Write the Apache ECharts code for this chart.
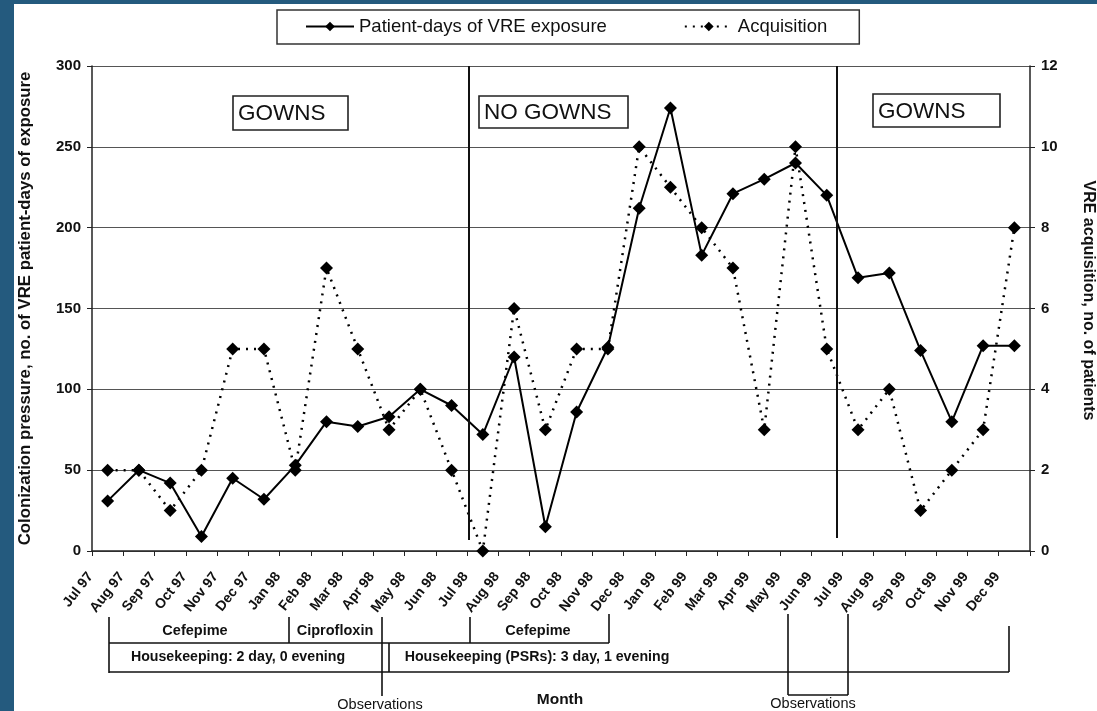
<!DOCTYPE html>
<html>
<head>
<meta charset="utf-8">
<script src="https://cdn.jsdelivr.net/npm/echarts@6/dist/echarts.min.js"></script>
<style>
html,body{margin:0;padding:0;background:#245a7e;}
#c{width:1097px;height:711px;}
</style>
</head>
<body>
<div id="c"></div>
<script>
const months = ['Jul 97','Aug 97','Sep 97','Oct 97','Nov 97','Dec 97','Jan 98','Feb 98','Mar 98','Apr 98','May 98','Jun 98','Jul 98','Aug 98','Sep 98','Oct 98','Nov 98','Dec 98','Jan 99','Feb 99','Mar 99','Apr 99','May 99','Jun 99','Jul 99','Aug 99','Sep 99','Oct 99','Nov 99','Dec 99'];
const patientDays = [31,50,42,9,45,32,53,80,77,83,100,90,72,120,15,86,126,212,274,183,221,230,240,220,169,172,124,80,127,127];
const acquisition = [2,2,1,2,5,5,2,7,5,3,4,2,0,6,3,5,5,10,9,8,7,3,10,5,3,4,1,2,3,8];
const leftTicks = {min:0, max:300, interval:50};
const rightTicks = {min:0, max:12, interval:2};

const FONT = '"Liberation Sans", Arial, sans-serif';
const chart = echarts.init(document.getElementById('c'));

function line(x1,y1,x2,y2,w){
  return {type:'line', shape:{x1:x1,y1:y1,x2:x2,y2:y2}, style:{stroke:'#111', lineWidth:w||1.6}, z:50};
}
function txt(x,y,s,size,weight){
  return {type:'text', x:x, y:y, style:{text:s, fill:'#111', font:(weight||'normal')+' '+size+'px '+FONT, textAlign:'center', textVerticalAlign:'middle'}, z:50};
}
function box(x,y,w,h,s){
  return [
    {type:'rect', shape:{x:x,y:y,width:w,height:h}, style:{fill:'#fff', stroke:'#222', lineWidth:1.6}, z:50},
    {type:'text', x:x+5, y:y+h/2+1, style:{text:s, fill:'#111', font:'normal 22.5px '+FONT, textAlign:'left', textVerticalAlign:'middle'}, z:51}
  ];
}

const graphics = [
  {type:'rect', shape:{x:14,y:4,width:1083,height:707}, style:{fill:'#fff'}, z:-100, silent:true},
  // period dividers
  line(469,66,469,540,2), line(837,66,837,538,2),
  ...box(233,96,115,34,'GOWNS'),
  ...box(479,96,149,32,'NO GOWNS'),
  ...box(873,94,127,33,'GOWNS'),
  // antibiotic bracket
  line(109,617,109,673), line(109,643,609,643), line(289,617,289,643),
  line(470,617,470,643), line(609,614,609,643),
  // housekeeping bracket
  line(109,672,1009,672), line(1009,626,1009,672), line(389,643,389,672),
  // observations 1
  line(382,617,382,696),
  // observations 2
  line(788,614,788,695), line(848,614,848,695), line(788,695,848,695),
  txt(195,631,'Cefepime',14.5,'bold'),
  txt(335,631,'Ciprofloxin',14.5,'bold'),
  txt(538,631,'Cefepime',14.5,'bold'),
  txt(238,657,'Housekeeping: 2 day, 0 evening',14.2,'bold'),
  txt(537,657,'Housekeeping (PSRs): 3 day, 1 evening',14.2,'bold'),
  txt(380,705,'Observations',14.5,'normal'),
  txt(813,704,'Observations',14.5,'normal'),
  txt(560,700,'Month',15.5,'bold')
];

chart.setOption({
  animation:false,
  backgroundColor:'#245a7e',
  textStyle:{fontFamily:FONT},
  graphic:graphics,
  legend:{
    left:277, top:10,
    padding:[7,32,8,28],
    itemGap:77, itemWidth:48, itemHeight:12,
    borderColor:'#333', borderWidth:1.5, backgroundColor:'#fff',
    textStyle:{fontSize:18.5, color:'#111', fontFamily:FONT},
    data:['Patient-days of VRE exposure','Acquisition']
  },
  grid:{left:92, right:67, top:66, bottom:160, show:false, containLabel:false, outerBoundsMode:'none'},
  xAxis:{
    type:'category', data:months, boundaryGap:true,
    axisLine:{lineStyle:{color:'#222', width:1.5}},
    axisTick:{show:true, alignWithLabel:false, length:5, lineStyle:{color:'#222'}},
    axisLabel:{rotate:52, fontSize:14, fontWeight:'bold', color:'#111', margin:1, interval:0, fontFamily:FONT, padding:[0,28,0,0]},
    splitLine:{show:false}
  },
  yAxis:[
    {
      type:'value', min:leftTicks.min, max:leftTicks.max, interval:leftTicks.interval,
      name:'Colonization pressure, no. of VRE patient-days of exposure',
      nameLocation:'middle', nameRotate:90, nameGap:58,
      nameTextStyle:{fontSize:16.8, fontWeight:'bold', color:'#111', fontFamily:FONT},
      axisLine:{show:true, lineStyle:{color:'#222', width:1.5}},
      axisTick:{show:true, length:5, lineStyle:{color:'#222'}},
      axisLabel:{fontSize:15, fontWeight:'bold', color:'#111', margin:11, fontFamily:FONT},
      splitLine:{show:true, lineStyle:{color:'#555', width:1.2}}
    },
    {
      type:'value', min:rightTicks.min, max:rightTicks.max, interval:rightTicks.interval,
      name:'VRE acquisition, no. of patients',
      nameLocation:'middle', nameRotate:-90, nameGap:50,
      nameTextStyle:{fontSize:16, fontWeight:'bold', color:'#111', fontFamily:FONT, padding:[0,16,0,0]},
      axisLine:{show:true, lineStyle:{color:'#222', width:1.5}},
      axisTick:{show:true, length:5, lineStyle:{color:'#222'}},
      axisLabel:{fontSize:15, fontWeight:'bold', color:'#111', margin:11, fontFamily:FONT},
      splitLine:{show:false}
    }
  ],
  series:[
    {
      name:'Patient-days of VRE exposure', type:'line', data:patientDays, yAxisIndex:0,
      symbol:'diamond', symbolSize:13, showAllSymbol:true,
      itemStyle:{color:'#000'}, lineStyle:{color:'#000', width:2}, z:10
    },
    {
      name:'Acquisition', type:'line', data:acquisition, yAxisIndex:1,
      symbol:'diamond', symbolSize:13, showAllSymbol:true,
      itemStyle:{color:'#000'}, lineStyle:{color:'#000', width:2.5, type:[2,6]}, z:9
    }
  ]
});
</script>
</body>
</html>
